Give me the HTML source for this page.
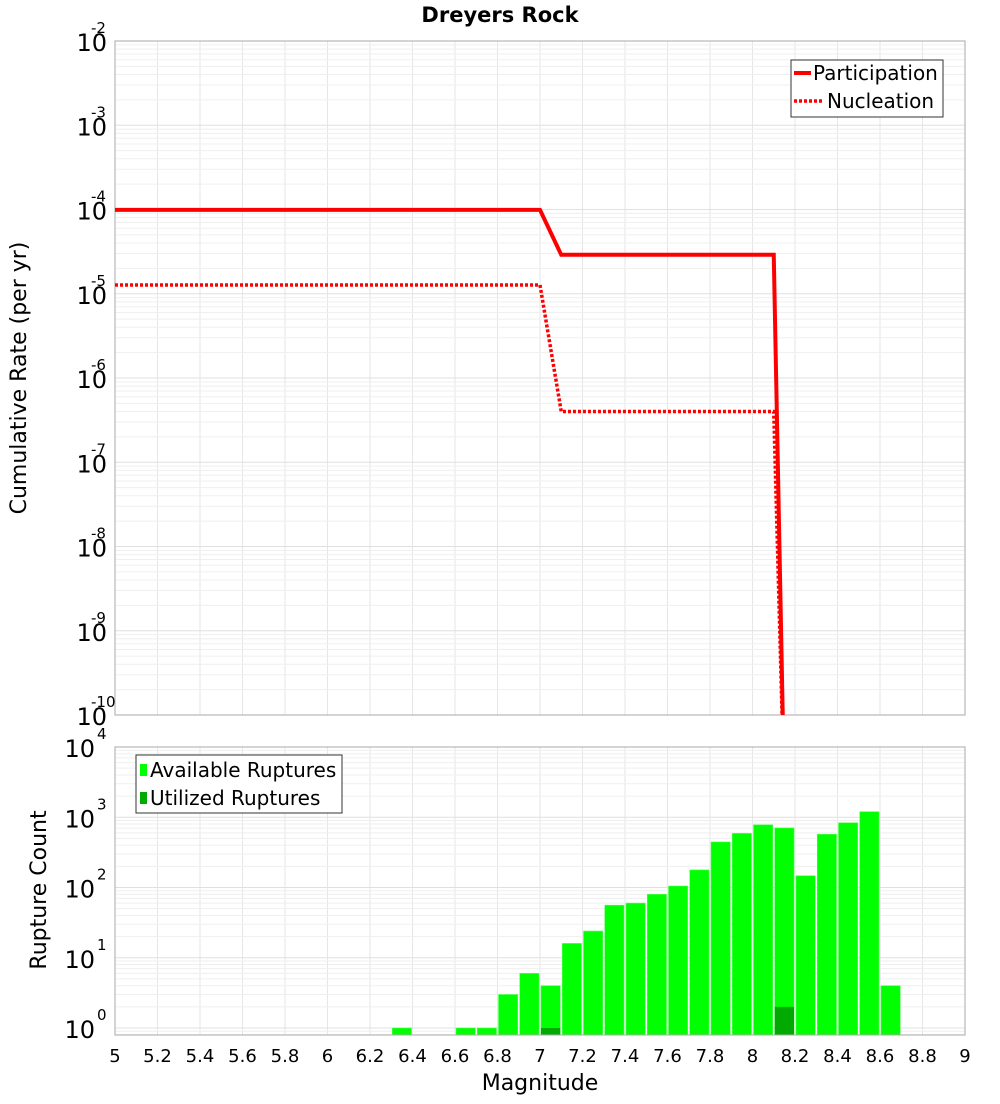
<!DOCTYPE html>
<html><head><meta charset="utf-8"><style>
body{margin:0;background:#fff;font-family:"DejaVu Sans","Liberation Sans",sans-serif;}
svg text{font-family:"DejaVu Sans","Liberation Sans",sans-serif;}
</style></head><body>
<svg id="c" width="1000" height="1100" xmlns="http://www.w3.org/2000/svg">
<text x="500" y="22" text-anchor="middle" font-size="21" font-weight="bold">Dreyers Rock</text>
<g id="topPanel"></g>
<g id="botPanel"></g>
<text transform="translate(26,378) rotate(-90)" text-anchor="middle" font-size="22">Cumulative Rate (per yr)</text>
<text transform="translate(46,890) rotate(-90)" text-anchor="middle" font-size="22">Rupture Count</text>
<text x="540" y="1090" text-anchor="middle" font-size="22">Magnitude</text>
<g id="legends">
<g>
<rect x="791" y="60" width="152" height="57" fill="#fff" stroke="#333"/>
<line x1="794" y1="73" x2="811" y2="73" stroke="#f00" stroke-width="4"/>
<text x="813" y="80" font-size="20">Participation</text>
<line x1="794" y1="101" x2="822" y2="101" stroke="#f00" stroke-width="3.5" stroke-dasharray="3,2"/>
<text x="827" y="108" font-size="20">Nucleation</text>
</g>
<g>
<rect x="136" y="755" width="206" height="58" fill="#fff" stroke="#333"/>
<rect x="140" y="764" width="7" height="12" fill="#00ff00"/>
<text x="150" y="777" font-size="20">Available Ruptures</text>
<rect x="140" y="792" width="7" height="12" fill="#00aa00"/>
<text x="150" y="805" font-size="20">Utilized Ruptures</text>
</g>
</g>
</svg>
<script>
const partMags=[5.0,7.0,7.1,8.1,8.15];
const partRates=[9.9e-5,9.9e-5,2.9e-5,2.9e-5,1e-11];
const nuclMags=[5.0,7.0,7.1,8.1,8.15];
const nuclRates=[1.27e-5,1.27e-5,4.0e-7,4.0e-7,1e-11];
const binCenters=[6.35,6.65,6.75,6.85,6.95,7.05,7.15,7.25,7.35,7.45,7.55,7.65,7.75,7.85,7.95,8.05,8.15,8.25,8.35,8.45,8.55,8.65];
const availCounts=[1,1,1,3,6,4,16,24,56,60,80,105,178,445,590,780,705,147,573,835,1200,4];
const utilBins=[7.05,8.15];
const utilCounts=[1,2];
const xTicks=[5,5.2,5.4,5.6,5.8,6,6.2,6.4,6.6,6.8,7,7.2,7.4,7.6,7.8,8,8.2,8.4,8.6,8.8,9];
const topExps=[-2,-3,-4,-5,-6,-7,-8,-9,-10];
const botExps=[4,3,2,1,0];
const NS='http://www.w3.org/2000/svg';
const X0=115,X1=965;
const xs=m=>X0+(m-5)/4*(X1-X0);
const TY0=41,TY1=715;
const ty=v=>TY0+(-2-Math.log10(v))*(TY1-TY0)/8;
const BY0=747,BY1=1035,BPD=70.25,BONE=1028;
const by=v=>BONE-Math.log10(v)*BPD;
function mk(p,tag,a){const e=document.createElementNS(NS,tag);for(const k in a)e.setAttribute(k,a[k]);p.appendChild(e);return e;}
const topG=document.getElementById('topPanel'),botG=document.getElementById('botPanel');
function grid(g,y0,y1,yf,lo,hi){
  for(const t of xTicks){mk(g,'line',{x1:xs(t),x2:xs(t),y1:y0,y2:y1,stroke:'#e6e6e6'});}
  for(let e=lo;e<hi;e++)for(let k=1;k<10;k++){const y=yf(k*Math.pow(10,e));if(y<y0||y>y1)continue;mk(g,'line',{x1:X0,x2:X1,y1:y,y2:y,stroke:k==1?'#e0e0e0':'#efefef'});}
}
mk(topG,'rect',{x:X0,y:TY0,width:X1-X0,height:TY1-TY0,fill:'#fff'});
grid(topG,TY0,TY1,ty,-10,-2);
mk(topG,'rect',{x:X0,y:TY0,width:X1-X0,height:TY1-TY0,fill:'none',stroke:'#aaa'});
for(const e of topExps){const y=ty(Math.pow(10,e));
  const t=mk(topG,'text',{x:X0-8,y:y+10,'text-anchor':'end','font-size':24});
  
  
  t.textContent='10';
  const s=mk(topG,'text',{x:X0-24,y:y-8,'font-size':15});
  s.textContent=String(e);
}
const clip=mk(topG,'clipPath',{id:'tc'});mk(clip,'rect',{x:X0,y:TY0,width:X1-X0,height:TY1-TY0});
function line(mags,rates,dash,name){
  const d=mags.map((m,i)=>(i?'L':'M')+xs(m)+','+ty(rates[i])).join(' ');
  const p=mk(topG,'path',{d:d,fill:'none',stroke:'#f00','stroke-width':dash?3.5:4,'clip-path':'url(#tc)'});
  if(dash)p.setAttribute('stroke-dasharray','3,2');
  
  
}
line(partMags,partRates,false,'participation-line');
line(nuclMags,nuclRates,true,'nucleation-line');
mk(botG,'rect',{x:X0,y:BY0,width:X1-X0,height:BY1-BY0,fill:'#fff'});
grid(botG,BY0,BY1,by,-1,4);
const bw=(X1-X0)/40;
availCounts.forEach((c,i)=>{const x=xs(binCenters[i])-bw/2+1;
  const r=mk(botG,'rect',{x:x,y:by(c),width:bw-2,height:BY1-by(c),fill:'#00ff00',stroke:'#55ff55','stroke-width':0.6});
  
  
});
utilCounts.forEach((c,i)=>{const x=xs(utilBins[i])-bw/2+1;
  const r=mk(botG,'rect',{x:x,y:by(c),width:bw-2,height:BY1-by(c),fill:'#00aa00'});
  
  
});
mk(botG,'rect',{x:X0,y:BY0,width:X1-X0,height:BY1-BY0,fill:'none',stroke:'#aaa'});
for(const e of botExps){const y=by(Math.pow(10,e));
  const t=mk(botG,'text',{x:X0-20,y:y+10,'text-anchor':'end','font-size':24});
  
  
  t.textContent='10';
  const s=mk(botG,'text',{x:X0-18,y:y-8,'font-size':15});
  s.textContent=String(e);
}
for(const t of xTicks){
  const l=mk(botG,'text',{x:xs(t),y:1062,'text-anchor':'middle','font-size':18});
  
  
  l.textContent=String(t);
}
</script>
</body></html>
